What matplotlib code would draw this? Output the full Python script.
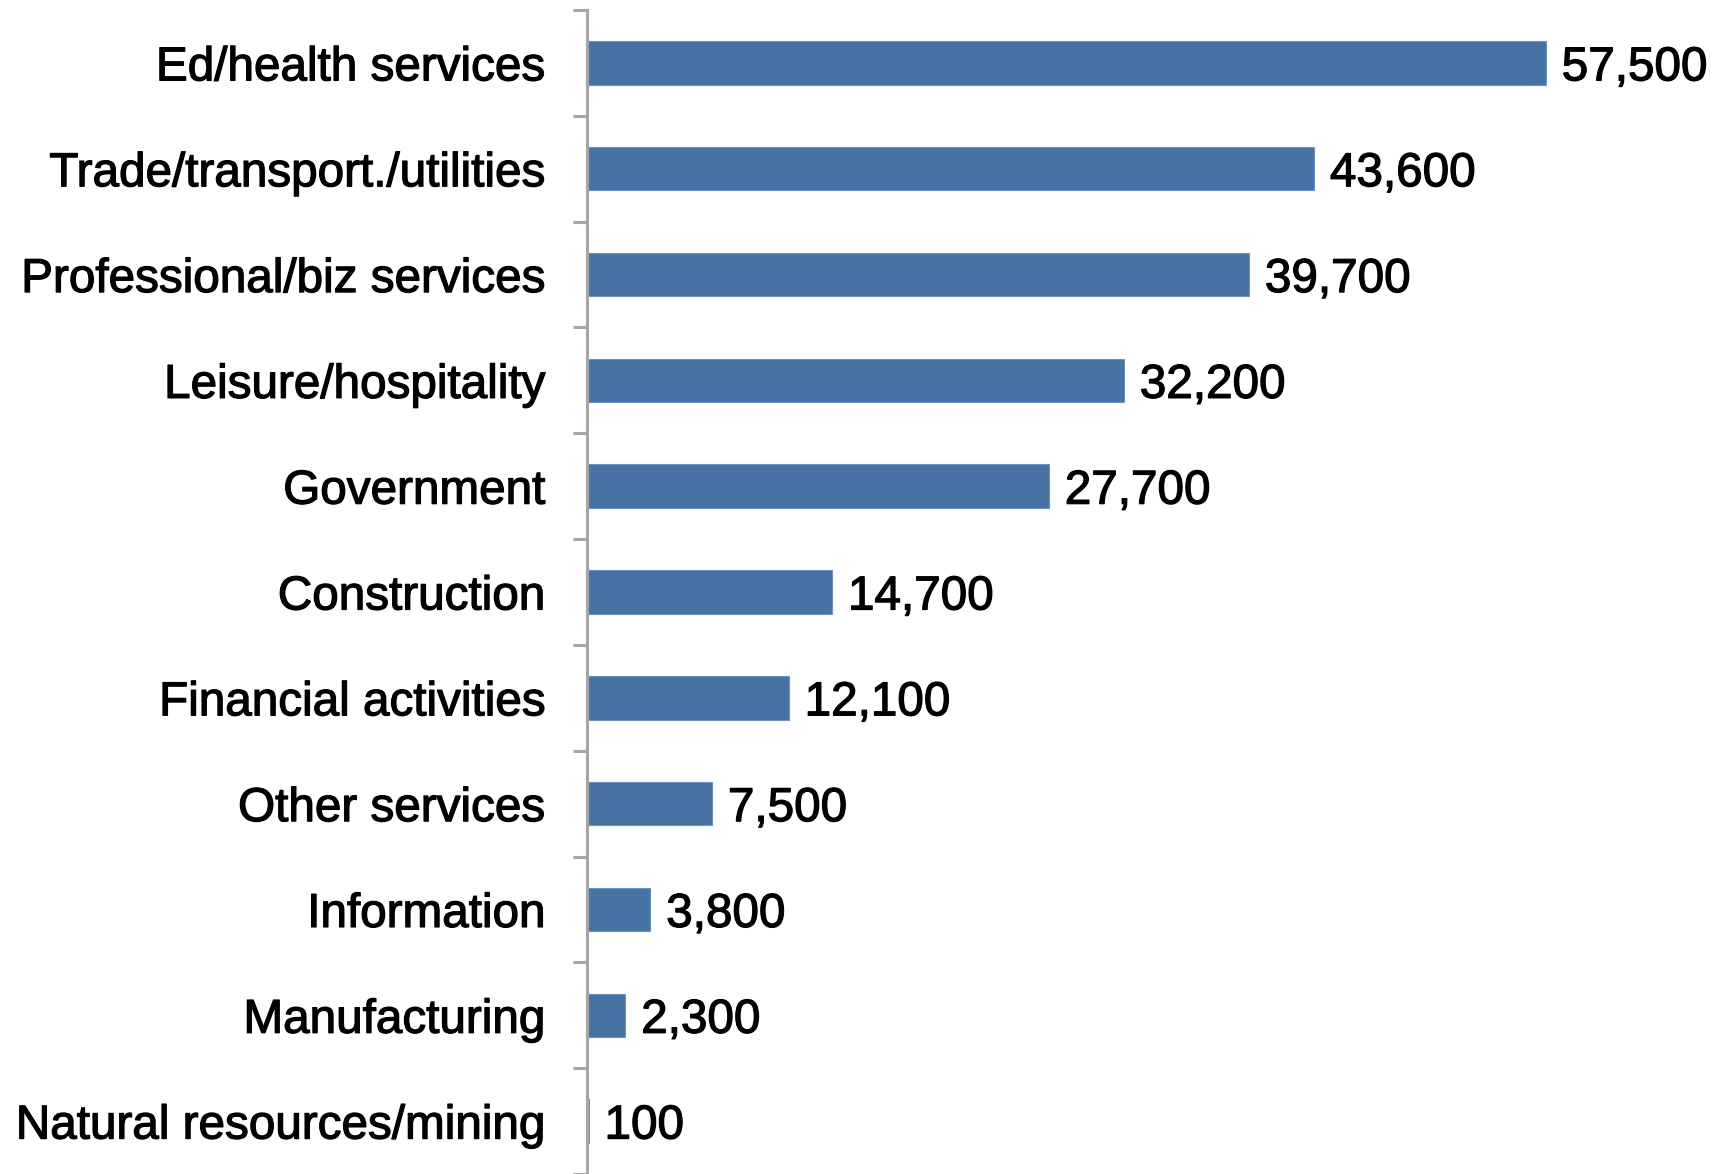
import matplotlib.pyplot as plt
import matplotlib.patheffects as pe
import numpy as np

categories = ['Ed/health services', 'Trade/transport./utilities', 'Professional/biz services',
              'Leisure/hospitality', 'Government', 'Construction', 'Financial activities',
              'Other services', 'Information', 'Manufacturing', 'Natural resources/mining']
values = [57500, 43600, 39700, 32200, 27700, 14700, 12100, 7500, 3800, 2300, 100]

plt.rcParams['font.family'] = ['Liberation Sans', 'DejaVu Sans']
heavy = [pe.withStroke(linewidth=0.9, foreground='black')]

fig = plt.figure(figsize=(17.21, 11.74), dpi=100)
ax = fig.add_axes([587 / 1721, 0.0, 1 - 587 / 1721, 1 - 10 / 1174])

y = np.arange(len(categories))
ax.barh(y, values, height=0.41, color='#4673A3', edgecolor='#6F93BD', linewidth=0.8)

for yi, v in zip(y, values):
    ax.text(v + 950, yi, f'{v:,}', va='center_baseline', ha='left', fontsize=34.3,
            color='black', path_effects=heavy)

ax.set_xlim(0, 68000)
ax.set_ylim(len(categories) - 0.5, -0.5)
ax.set_xticks([])
ax.set_yticks(y)
ax.set_yticklabels(categories, fontsize=34.3)
for lab in ax.get_yticklabels():
    lab.set_path_effects(heavy)
ax.set_yticks(np.arange(len(categories) + 1) - 0.5, minor=True)
ax.tick_params(axis='y', which='major', length=0, pad=30)
ax.tick_params(axis='y', which='minor', length=10, width=2.2, color='#A6A6A6')
for s in ['top', 'right', 'bottom']:
    ax.spines[s].set_visible(False)
ax.spines['left'].set_color('#A6A6A6')
ax.spines['left'].set_linewidth(2.2)

fig.savefig('out.png', dpi=100)
